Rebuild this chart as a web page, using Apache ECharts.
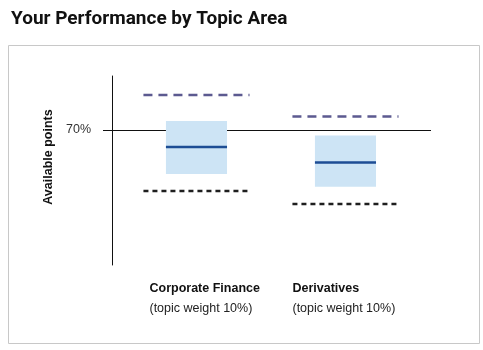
<!DOCTYPE html>
<html>
<head>
<meta charset="utf-8">
<script src="https://cdn.jsdelivr.net/npm/echarts@6/dist/echarts.min.js"></script>
<style>
  html, body { margin: 0; padding: 0; background: #fff; }
  #chart { width: 483px; height: 350px; }
</style>
</head>
<body>
<div id="chart"></div>
<script>
// Topic areas and their weights
const topics = ['Corporate Finance', 'Derivatives'];
const topicWeights = ['10%', '10%'];
const topicPositions = [1, 2];

// Score bands, in % of available points
const upperMarks = [83, 75];   // dashed line above
const rangeHigh = [73.3, 68];  // box top
const yourScore = [63.7, 58];  // solid median line
const rangeLow = [53.7, 49];   // box bottom
const lowerMarks = [47.4, 42.6]; // dotted line below

const passMark = 70;
const yTicks = [70];

const rows = topics.map((t, i) => [topicPositions[i], upperMarks[i], rangeHigh[i], yourScore[i], rangeLow[i], lowerMarks[i], i]);

// horizontal nudge of each category caption relative to its column centre
const captionShift = [-47, -53];

const chart = echarts.init(document.getElementById('chart'), null, { renderer: 'canvas' });

function renderTopic(params, api) {
  const x = api.value(0);
  const idx = api.value(6);
  const pUp = api.coord([x, api.value(1)]);
  const pHi = api.coord([x, api.value(2)]);
  const pMid = api.coord([x, api.value(3)]);
  const pLo = api.coord([x, api.value(4)]);
  const pDown = api.coord([x, api.value(5)]);
  const boxW = api.size([0.41, 0])[0];
  const lineW = api.size([0.712, 0])[0];
  const cs = params.coordSys;
  const cx = pMid[0];
  return {
    type: 'group',
    children: [
      {
        type: 'rect',
        shape: { x: cx - boxW / 2, y: pHi[1], width: boxW, height: pLo[1] - pHi[1] },
        style: { fill: '#cde4f5' }
      },
      {
        type: 'line',
        shape: { x1: cx - boxW / 2, y1: pMid[1], x2: cx + boxW / 2, y2: pMid[1] },
        style: { stroke: '#1d4d94', lineWidth: 2.5 }
      },
      {
        type: 'line',
        shape: { x1: cx - lineW / 2, y1: pUp[1], x2: cx + lineW / 2, y2: pUp[1] },
        style: { stroke: '#5c5a90', lineWidth: 2.5, lineDash: [9, 6] }
      },
      {
        type: 'line',
        shape: { x1: cx - lineW / 2, y1: pDown[1], x2: cx + lineW / 2, y2: pDown[1] },
        style: { stroke: '#1e1e1e', lineWidth: 2.5, lineDash: [5, 4] }
      },
      {
        type: 'text',
        x: cx + captionShift[idx],
        y: cs.y + cs.height + 14,
        style: {
          text: '{b|' + topics[idx] + '}\n{n|(topic weight ' + topicWeights[idx] + ')}',
          rich: {
            b: { fontFamily: 'Liberation Sans, Arial, sans-serif', fontWeight: 'bold', fontSize: 12.5, fill: '#111', lineHeight: 20 },
            n: { fontFamily: 'Liberation Sans, Arial, sans-serif', fontSize: 12.5, fill: '#222', lineHeight: 20 }
          },
          align: 'left',
          verticalAlign: 'top'
        }
      }
    ]
  };
}

chart.setOption({
  animation: false,
  backgroundColor: '#fff',
  title: {
    text: 'Your Performance by Topic Area',
    left: 6,
    top: 5,
    textStyle: { fontFamily: 'Roboto, sans-serif', fontWeight: 'bold', fontSize: 19, color: '#111' }
  },
  graphic: [{
    type: 'rect',
    left: 6,
    top: 43,
    silent: true,
    shape: { width: 471, height: 298 },
    style: { fill: 'none', stroke: '#c8c8c8', lineWidth: 1 }
  }],
  grid: { left: 112, top: 76, width: 319, height: 189, containLabel: false },
  xAxis: {
    type: 'value',
    min: 0.433,
    max: 2.574,
    show: false
  },
  yAxis: {
    type: 'value',
    min: 20,
    max: 90,
    name: 'Available points',
    nameLocation: 'middle',
    nameRotate: 90,
    nameGap: 53,
    nameTextStyle: {
      fontFamily: 'Liberation Sans, Arial, sans-serif',
      fontWeight: 'bold',
      fontSize: 12.5,
      color: '#111',
      padding: [0, 0, 0, 27]
    },
    axisLine: { show: true, lineStyle: { color: '#111', width: 1 } },
    axisTick: { show: true, customValues: yTicks, length: 9, lineStyle: { color: '#111' } },
    axisLabel: {
      show: true,
      customValues: yTicks,
      margin: 21,
      formatter: v => v + '%',
      fontFamily: 'Liberation Sans, Arial, sans-serif',
      fontSize: 12.5,
      color: '#333'
    },
    splitLine: { show: false }
  },
  series: [
    {
      type: 'custom',
      renderItem: renderTopic,
      data: rows,
      encode: { x: 0, y: [1, 2, 3, 4, 5] },
      z: 3,
      markLine: {
        silent: true,
        symbol: 'none',
        label: { show: false },
        lineStyle: { color: '#111', width: 1, type: 'solid' },
        data: [{ yAxis: passMark }],
        z: 1
      }
    }
  ]
});
</script>
</body>
</html>
